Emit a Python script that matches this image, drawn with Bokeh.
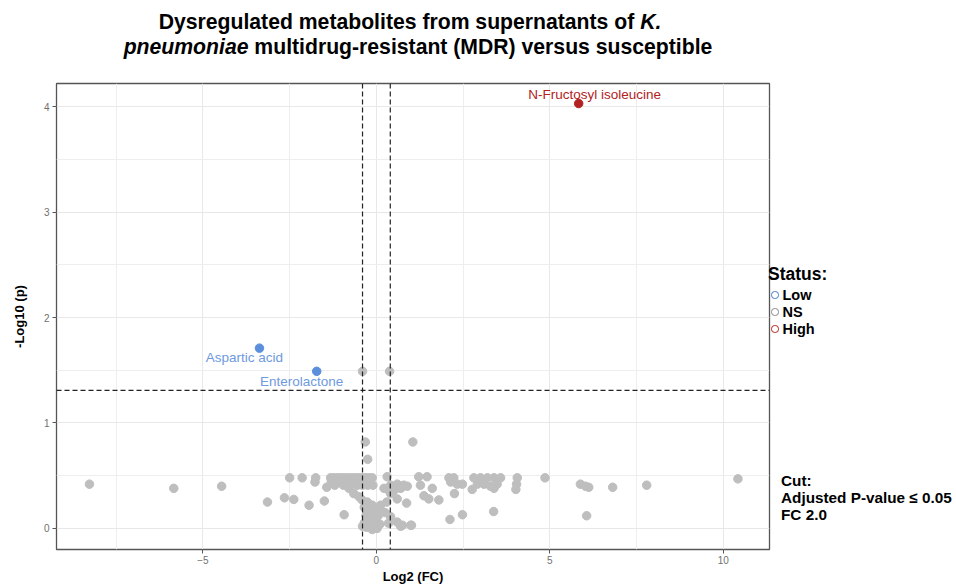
from bokeh.plotting import figure
from bokeh.models import Range1d, FixedTicker, Span, Div, ColumnDataSource
from bokeh.layouts import column, row
from bokeh.embed import file_html
from bokeh.resources import INLINE
from bokeh.core.properties import value

# ---------------- data ----------------
# not significant metabolites: log2 fold change and -log10 p
ns_fc = [-8.27, -5.84, -4.46, -3.14, -2.65, -2.38, -2.50, -2.14, -1.75, -1.77, -1.94, -1.50,
         -1.43, -0.93, -0.32, -0.25, -0.40, 0.38,
         -1.32, -1.22, -1.12, -1.02, -0.92, -0.82, -0.72, -0.62, -0.52, -0.42, -0.32, -0.22, -0.12,
         -1.30, -1.10, -0.90, -0.70, -0.50, -0.35, -0.20,
         -1.20, -0.95, -0.75, -0.55, -0.40, -0.25, -0.10,
         -0.79, -0.65, -0.50, -0.41, -0.26, -0.12, 0.02, 0.12,
         -0.35, -0.25, -0.15, -0.05, -0.30, -0.18, -0.05, 0.05, -0.35, -0.20, -0.08, 0.02, -0.12,
         -0.40, 0.10, -0.28,
         0.31, 0.22, 0.36, 0.41, 0.51, 0.60, 0.79, 0.41, 0.60, 0.87, 0.41, 0.60, 0.75, 0.99,
         1.22, 1.46, 0.70, 1.01, 0.70, 0.89, 0.30, 0.25, 0.35,
         1.05, 1.27, 1.61, 1.37, 1.51, 1.80, 2.25, 2.12, 2.48, 3.38,
         2.09, 2.23, 2.14, 2.33, 2.48, 2.81, 3.00, 3.20, 3.39, 3.58, 2.91, 3.10, 3.29, 3.48,
         2.76, 3.39, 4.06, 4.04, 4.02, 4.86, 5.88, 6.03, 6.12, 6.06, 6.81, 7.79, 10.42]
ns_p = [0.42, 0.38, 0.40, 0.25, 0.29, 0.275, 0.48, 0.48, 0.48, 0.44, 0.22, 0.26,
        0.39, 0.13, 0.82, 0.655, 1.49, 1.49,
        0.48, 0.48, 0.48, 0.48, 0.48, 0.48, 0.48, 0.48, 0.48, 0.48, 0.48, 0.48, 0.48,
        0.44, 0.44, 0.44, 0.44, 0.44, 0.44, 0.44,
        0.41, 0.41, 0.41, 0.41, 0.41, 0.41, 0.41,
        0.38, 0.33, 0.30, 0.27, 0.25, 0.22, 0.17, 0.22,
        0.20, 0.18, 0.15, 0.17, 0.12, 0.10, 0.09, 0.12, 0.05, 0.04, 0.03, 0.00, -0.01,
        0.02, 0.04, 0.01,
        0.49, 0.38, 0.36, 0.41, 0.36, 0.42, 0.41, 0.33, 0.28, 0.24, 0.11, 0.06, 0.03, 0.03,
        0.49, 0.49, 0.02, 0.03, 0.38, 0.40, 0.25, 0.15, 0.05,
        0.82, 0.41, 0.38, 0.31, 0.28, 0.27, 0.33, 0.085, 0.13, 0.16,
        0.48, 0.48, 0.44, 0.42, 0.42, 0.48, 0.48, 0.48, 0.48, 0.48, 0.42, 0.42, 0.40, 0.42,
        0.37, 0.38, 0.48, 0.42, 0.37, 0.48, 0.42, 0.40, 0.39, 0.12, 0.39, 0.41, 0.47]

low_fc = [-3.37, -1.72]
low_p = [1.71, 1.49]
low_names = ["Aspartic acid", "Enterolactone"]

high_fc = [5.83]
high_p = [4.03]
high_names = ["N-Fructosyl isoleucine"]

fc_cut_lines = [-0.4, 0.4]
p_cut_line = 1.31

x_ticks = [-5, 0, 5, 10]
y_ticks = [0, 1, 2, 3, 4]

title_line1 = "Dysregulated metabolites from supernatants of "
title_italic1 = "K."
title_italic2 = "pneumoniae"
title_line2 = " multidrug-resistant (MDR) versus susceptible"
legend_title = "Status:"
legend_labels = ["Low", "NS", "High"]
cut_lines = ["Cut:", "Adjusted P-value &#8804; 0.05", "FC 2.0"]

# ---------------- style ----------------
FONT = "Liberation Sans"
GREY = "#BEBEBE"
BLUE = "#5B8FDC"
BLUE_TXT = "#6E9AE0"
RED = "#B22222"
legend_colors = ["#4A78C8", "#8A8A8A", "#B22222"]

TITLE_H = 78
FIG_W = 771
FIG_H = 588 - TITLE_H

p = figure(width=FIG_W, height=FIG_H,
           x_range=Range1d(-9.22, 11.33), y_range=Range1d(-0.2, 4.22),
           output_backend="svg", toolbar_location=None,
           min_border_left=56, min_border_right=2, min_border_top=5, min_border_bottom=39,
           background_fill_color="white", border_fill_color="white")

minor_x = [(a + b) / 2 for a, b in zip([x_ticks[0] - 5] + x_ticks, x_ticks + [x_ticks[-1] + 5])]
minor_y = [(a + b) / 2 for a, b in zip(y_ticks[:-1], y_ticks[1:])] + [y_ticks[-1] + 0.5]
p.xaxis.ticker = FixedTicker(ticks=x_ticks, minor_ticks=minor_x)
p.yaxis.ticker = FixedTicker(ticks=y_ticks, minor_ticks=minor_y)

for g in (p.xgrid, p.ygrid):
    g.grid_line_color = "#E8E8E8"
    g.grid_line_width = 1
    g.minor_grid_line_color = "#EEEEEE"
    g.minor_grid_line_width = 1

p.outline_line_color = "#555555"
p.outline_line_width = 1.3

for ax in (p.xaxis, p.yaxis):
    ax.axis_line_color = None
    ax.major_tick_line_color = "#555555"
    ax.major_tick_out = 4
    ax.major_tick_in = 0
    ax.minor_tick_line_color = None
    ax.major_label_text_font = FONT
    ax.major_label_text_font_size = "10px"
    ax.major_label_text_color = "#707070"
    ax.axis_label_text_font = FONT
    ax.axis_label_text_font_size = "13px"
    ax.axis_label_text_font_style = "bold"
    ax.axis_label_text_color = "#000000"

p.xaxis.axis_label = "Log2 (FC)"
p.yaxis.axis_label = "-Log10 (p)"
p.xaxis.major_label_standoff = 2
p.xaxis.axis_label_standoff = 2
p.yaxis.major_label_standoff = 3
p.yaxis.axis_label_standoff = 14

p.scatter(ns_fc, ns_p, size=8.5, color=GREY)
p.scatter(low_fc, low_p, size=8.5, color=BLUE)
p.scatter(high_fc, high_p, size=8.5, color=RED)

# labels attached to the significant points (pixel offsets only)
low_src = ColumnDataSource(dict(x=low_fc, y=low_p, t=low_names, dx=[-15, -15], dy=[9, 10]))
p.text(x="x", y="y", text="t", x_offset="dx", y_offset="dy", source=low_src,
       text_align="center", text_baseline="middle", text_font=value(FONT),
       text_font_size="13.5px", text_color=BLUE_TXT)
high_src = ColumnDataSource(dict(x=high_fc, y=high_p, t=high_names, dx=[16], dy=[-9]))
p.text(x="x", y="y", text="t", x_offset="dx", y_offset="dy", source=high_src,
       text_align="center", text_baseline="middle", text_font=value(FONT),
       text_font_size="13.5px", text_color=RED)

for xv in fc_cut_lines:
    p.add_layout(Span(location=xv, dimension="height", line_color="#222222",
                      line_width=1.2, line_dash="5 3"))
p.add_layout(Span(location=p_cut_line, dimension="width", line_color="#222222",
                  line_width=1.2, line_dash="5 3"))

# ---------------- title ----------------
title_html = (
    '<div style="position:relative;width:956px;height:%dpx;font-family:\'Liberation Sans\',Arial,sans-serif;'
    'font-weight:bold;font-size:21.2px;color:#000;">' % TITLE_H
    + '<div style="position:absolute;left:0;top:10px;width:820px;text-align:center;line-height:24px;white-space:nowrap;">'
    + title_line1 + '<i>' + title_italic1 + '</i></div>'
    + '<div style="position:absolute;left:0;top:35px;width:836px;text-align:center;line-height:24px;white-space:nowrap;">'
    + '<i>' + title_italic2 + '</i>' + title_line2 + '</div></div>'
)
title_div = Div(text=title_html, width=956, height=TITLE_H, margin=(0, 0, 0, 0))

# ---------------- legend ----------------
LEG_W = 956 - FIG_W
items = ""
for i, (lab, col) in enumerate(zip(legend_labels, legend_colors)):
    top = 209 + 17 * i
    items += ('<div style="position:absolute;left:0px;top:%dpx;line-height:16px;font-size:14.5px;font-weight:bold;white-space:nowrap;">'
              '<span style="display:inline-block;box-sizing:border-box;width:7.5px;height:7.5px;border:1.8px solid %s;'
              'border-radius:50%%;vertical-align:middle;margin-right:4px;position:relative;top:-1px;"></span>%s</div>') % (top, col, lab)
cuts = ""
for i, txt in enumerate(cut_lines):
    top = 394 + 17 * i
    cuts += ('<div style="position:absolute;left:10px;top:%dpx;line-height:17px;font-size:15.3px;font-weight:bold;'
             'white-space:nowrap;">%s</div>') % (top, txt)
legend_html = (
    '<div style="position:relative;width:%dpx;height:%dpx;font-family:\'Liberation Sans\',Arial,sans-serif;color:#000;">' % (LEG_W, FIG_H)
    + '<div style="position:absolute;left:-3px;top:186px;line-height:20px;font-size:17.5px;font-weight:bold;">'
    + legend_title + '</div>' + items + cuts + '</div>'
)
legend_div = Div(text=legend_html, width=LEG_W, height=FIG_H, margin=(0, 0, 0, 0))

layout = column(title_div, row(p, legend_div, spacing=0), spacing=0)
open("out.html", "w").write(file_html(layout, INLINE))
